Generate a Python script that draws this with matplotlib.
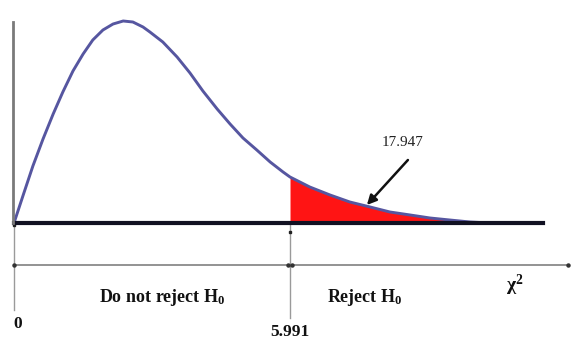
import numpy as np
import matplotlib
matplotlib.use("Agg")
import matplotlib.pyplot as plt

# ── Data ──────────────────────────────────────────────────
chi_x = [0.0, 0.20, 0.41, 0.63, 0.85, 1.06, 1.28, 1.50, 1.71, 1.93, 2.15, 2.37,
         2.58, 2.80, 2.95, 3.23, 3.54, 3.82, 4.10, 4.41, 4.69, 4.97, 5.27, 5.56,
         5.84, 5.991, 6.42, 6.86, 7.29, 7.73, 8.16, 8.60, 9.03, 9.46, 9.90, 10.33]
density = [0.0, 0.028, 0.057, 0.084, 0.109, 0.131, 0.152, 0.169, 0.183, 0.193, 0.199, 0.202,
           0.201, 0.196, 0.191, 0.181, 0.166, 0.150, 0.132, 0.114, 0.099, 0.085, 0.073, 0.061,
           0.051, 0.046, 0.036, 0.028, 0.021, 0.016, 0.011, 0.008, 0.005, 0.003, 0.001, 0.0]

critical = 5.991
stat_value = "17.947"
x_end = 11.48

plt.rcParams['mathtext.fontset'] = 'custom'
plt.rcParams['mathtext.rm'] = 'Liberation Serif:bold'
plt.rcParams['mathtext.bf'] = 'Liberation Serif:bold'
plt.rcParams['mathtext.it'] = 'Liberation Serif:bold'

fig = plt.figure(figsize=(5.88, 3.62), dpi=100)
ax = fig.add_axes([0, 0, 1, 1])
ax.set_xlim(-0.304, 12.459)
ax.set_ylim(-0.139, 0.223)
ax.axis('off')

x = np.array(chi_x)
y = np.array(density)

# ── Rejection region ─────────────────────────────────────
mask = x >= critical
ax.fill_between(x[mask], y[mask], 0, color='#ff1414', linewidth=0, zorder=2)

# ── Curve, axes ──────────────────────────────────────────
ax.plot(x, y, color='#5656a0', linewidth=2.1, zorder=3,
        solid_capstyle='round', solid_joinstyle='round')
ax.plot([0, x_end], [0, 0], color='#111122', linewidth=3, zorder=4)
ax.plot([-0.02, -0.02], [0, 0.201], color='#7a7a7a', linewidth=2, zorder=4)

# ── Lower scale ──────────────────────────────────────────
dim_y = -0.042
ax.plot([0, 12.03], [dim_y, dim_y], color='#8a8a8a', linewidth=1.3)
ax.plot([0, 0], [0, -0.087], color='#9a9a9a', linewidth=1)
ax.plot([critical, critical], [0, -0.095], color='#9a9a9a', linewidth=1)
ax.plot([0, critical - 0.05, critical + 0.05, 12.03], [dim_y] * 4, 'o',
        color='#333333', markersize=2.2)
ax.plot([0, critical], [-0.002, -0.009], 's', color='#222222', markersize=2)

# ── Labels ───────────────────────────────────────────────
txt = dict(family='Liberation Serif', fontweight='bold', ha='center', va='center',
           color='#111111')
ax.text(3.21, -0.075, r'Do not reject H$_\mathbf{0}$', fontsize=13, **txt)
ax.text(7.62, -0.075, r'Reject H$_\mathbf{0}$', fontsize=13, **txt)
ax.text(10.87, -0.062, r'$\chi^\mathbf{2}$', fontsize=14, **txt)
ax.text(0.09, -0.101, '0', fontsize=12.5, **txt)
ax.text(critical, -0.109, f'{critical:.3f}', fontsize=12.5, **txt)
ax.text(8.44, 0.081, stat_value, fontsize=11, family='Liberation Serif',
        ha='center', va='center', color='#222222')

ax.annotate('', xy=(7.66, 0.018), xytext=(8.55, 0.063),
            arrowprops=dict(arrowstyle='-|>', color='#111111', lw=1.8,
                            mutation_scale=14, shrinkA=0, shrinkB=0), zorder=5)

fig.savefig('out.png', dpi=100)
